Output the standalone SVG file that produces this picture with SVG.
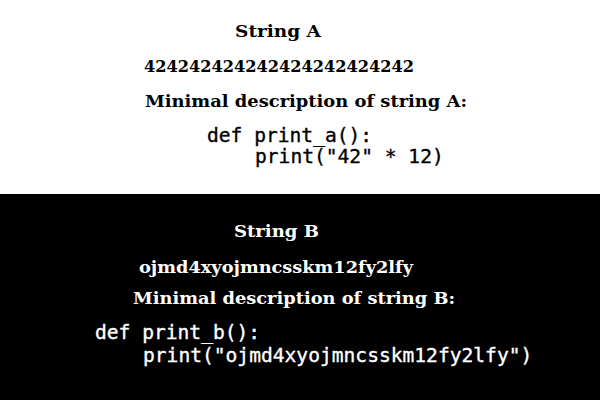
<svg xmlns="http://www.w3.org/2000/svg" width="600" height="400" viewBox="0 0 600 400">
  <style>
    .ser { font-family: "DejaVu Serif", "Liberation Serif", serif; font-weight: bold; font-size: 16px; }
    .mono { font-family: "DejaVu Sans Mono", "Liberation Mono", monospace; font-size: 19.6px; stroke-width: 0.35px; }
    .dark { fill: #000000; }
    .light { fill: #ffffff; }
    .mono.dark { stroke: #000000; }
    .mono.light { stroke: #ffffff; }
  </style>
  <rect x="0" y="0" width="600" height="194" fill="#ffffff"/>
  <rect x="0" y="194" width="600" height="206" fill="#000000"/>
  <g id="panel-a">
    <text class="ser dark" x="235" y="37" textLength="86" lengthAdjust="spacingAndGlyphs">String A</text>
    <text class="ser dark" x="144" y="72" textLength="270" lengthAdjust="spacingAndGlyphs">424242424242424242424242</text>
    <text class="ser dark" x="145" y="107" textLength="322" lengthAdjust="spacingAndGlyphs">Minimal description of string A:</text>
    <text class="mono dark" x="207" y="142">def print_a():</text>
    <text class="mono dark" x="255" y="163">print("42" * 12)</text>
  </g>
  <g id="panel-b">
    <text class="ser light" x="234" y="237" textLength="85" lengthAdjust="spacingAndGlyphs">String B</text>
    <text class="ser light" x="139" y="273" textLength="274" lengthAdjust="spacingAndGlyphs">ojmd4xyojmncsskm12fy2lfy</text>
    <text class="ser light" x="133" y="304" textLength="322" lengthAdjust="spacingAndGlyphs">Minimal description of string B:</text>
    <text class="mono light" x="95" y="339">def print_b():</text>
    <text class="mono light" x="143" y="362">print("ojmd4xyojmncsskm12fy2lfy")</text>
  </g>
</svg>
